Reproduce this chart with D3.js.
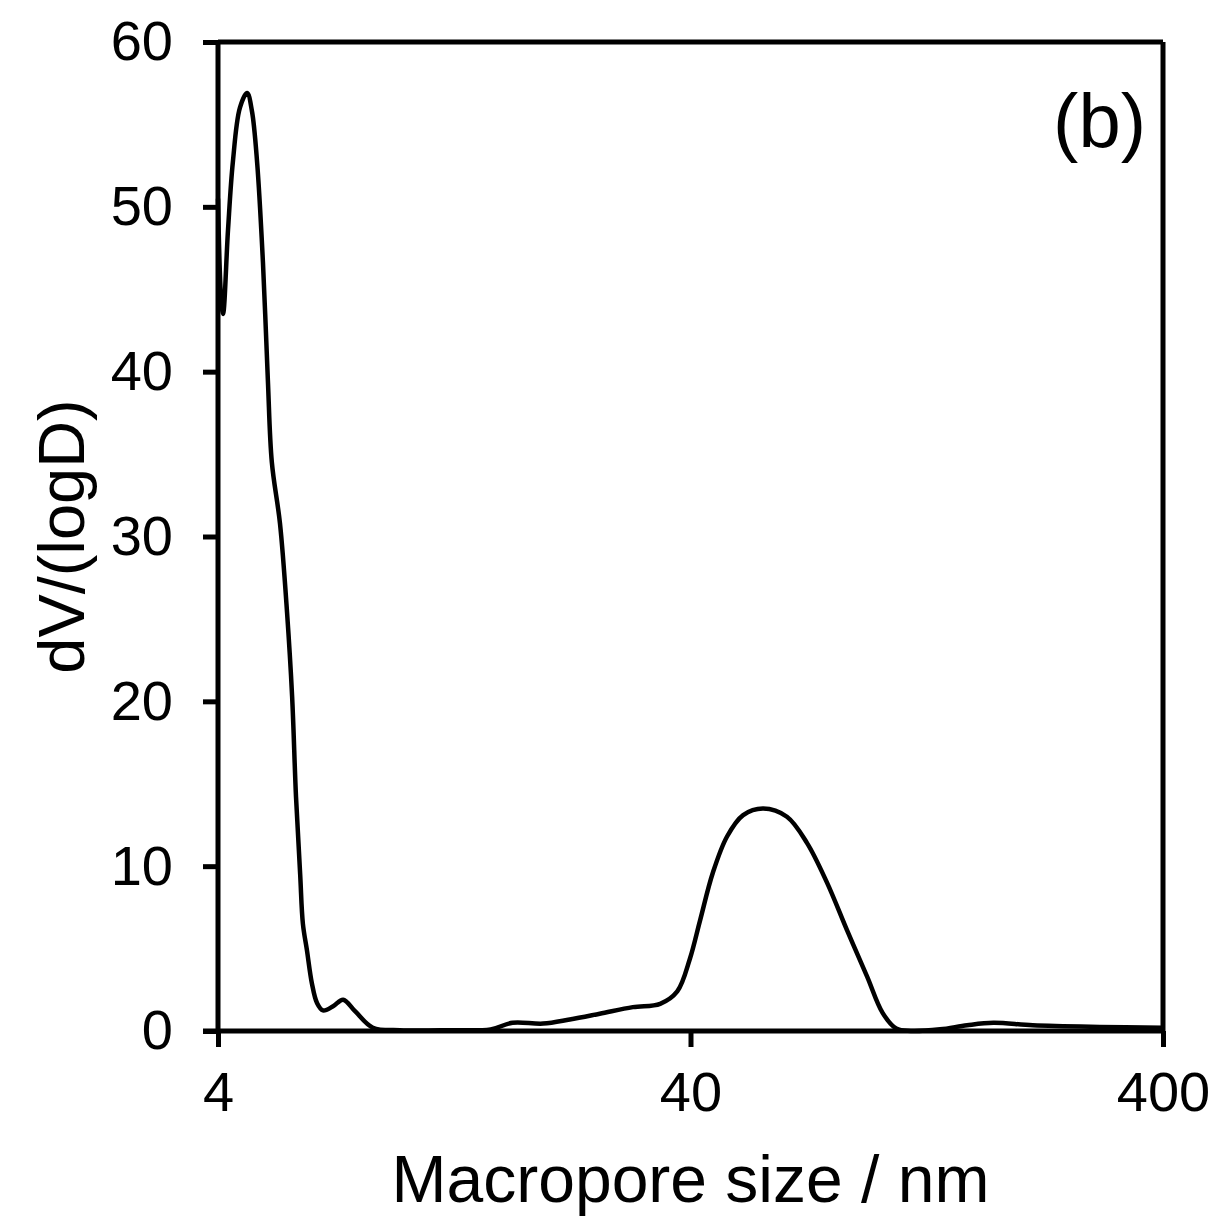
<!DOCTYPE html>
<html>
<head>
<meta charset="utf-8">
<script src="https://cdn.jsdelivr.net/npm/d3@7"></script>
<style>
  body { margin: 0; background: #fff; }
  text { font-family: "Liberation Sans", Arial, sans-serif; fill: #000; }
</style>
</head>
<body>
<div id="chart"></div>
<script>
// pore size (nm) and dV/(logD)
var poreSize = [4.00, 4.06, 4.10, 4.20, 4.30, 4.45, 4.61, 4.72, 4.84, 4.98, 5.10, 5.20, 5.41, 5.60, 5.74, 5.85,
    5.97, 6.05, 6.17, 6.32, 6.48, 6.67, 7.01, 7.36, 7.80, 8.51, 9.71, 12.4, 15.1, 16.8, 19.5, 22.2, 25.7, 30.2,
    34.5, 37.5, 39.9, 41.9, 44.6, 47.8, 51.7, 57.0, 64.0, 70.6, 77.8, 85.8, 94.6, 102, 109, 117, 135, 154, 175,
    212, 294, 400];
var dVlogD = [50.5, 44.5, 43.5, 48.6, 52.7, 56.0, 56.9, 55.8, 52.7, 46.6, 39.5, 34.5, 30.8, 25.4, 20.3, 14.2,
    9.5, 6.5, 4.9, 2.9, 1.7, 1.25, 1.5, 1.9, 1.2, 0.2, 0.05, 0.05, 0.1, 0.5, 0.45, 0.7, 1.05, 1.45,
    1.65, 2.4, 4.4, 6.7, 9.6, 11.8, 13.1, 13.5, 13.0, 11.4, 9.0, 6.1, 3.3, 1.1, 0.15, 0.0, 0.1, 0.35, 0.5,
    0.35, 0.25, 0.2];
var xTicks = [4, 40, 400];
var yTicks = [0, 10, 20, 30, 40, 50, 60];

(function() {
    var width = 1215, height = 1217;
    var mLeft = 218, mRight = 1163, mTop = 42, mBottom = 1031;
    var axisW = 5;

    var svg = d3.select("#chart").append("svg")
        .attr("width", width)
        .attr("height", height);

    svg.append("rect").attr("width", width).attr("height", height).attr("fill", "#fff");

    var x = d3.scaleLog().domain([4, 400]).range([mLeft, mRight]);
    var y = d3.scaleLinear().domain([0, 60]).range([mBottom, mTop]);

    // frame (top and right)
    svg.append("line").attr("x1", mLeft).attr("x2", mRight).attr("y1", mTop).attr("y2", mTop)
        .attr("stroke", "#000").attr("stroke-width", axisW);
    svg.append("line").attr("x1", mRight).attr("x2", mRight).attr("y1", mTop).attr("y2", mBottom)
        .attr("stroke", "#000").attr("stroke-width", axisW);

    // axes
    var xAxis = svg.append("g")
        .attr("transform", "translate(0," + mBottom + ")")
        .call(d3.axisBottom(x).tickValues(xTicks).tickSize(16).tickPadding(24).tickFormat(d3.format("d")));
    var yAxis = svg.append("g")
        .attr("transform", "translate(" + mLeft + ",0)")
        .call(d3.axisLeft(y).tickValues(yTicks).tickSize(15).tickPadding(30));

    [xAxis, yAxis].forEach(function(g) {
        g.select(".domain").attr("stroke", "#000").attr("stroke-width", axisW);
        g.selectAll(".tick line").attr("stroke", "#000").attr("stroke-width", axisW);
        g.selectAll(".tick text").attr("font-size", 56).attr("font-family", "Liberation Sans, Arial, sans-serif").attr("fill", "#000");
    });
    // axis lines reach to the outer tick ends like the original
    xAxis.select(".domain").attr("d", "M" + (mLeft - 15) + ",0H" + mRight);
    yAxis.select(".domain").attr("d", "M0," + mTop + "V" + mBottom);

    // curve
    var line = d3.line()
        .x(function(d, i) { return x(poreSize[i]); })
        .y(function(d) { return y(Math.max(d, 0)); })
        .curve(d3.curveCatmullRom.alpha(0.5));

    svg.append("path")
        .datum(dVlogD)
        .attr("d", line)
        .attr("fill", "none")
        .attr("stroke", "#000")
        .attr("stroke-width", 4.5)
        .attr("stroke-linejoin", "round");

    // labels
    svg.append("text")
        .attr("x", (mLeft + mRight) / 2)
        .attr("y", 1202)
        .attr("text-anchor", "middle")
        .attr("font-size", 66)
        .text("Macropore size / nm");

    svg.append("text")
        .attr("transform", "translate(84," + ((mTop + mBottom) / 2) + ") rotate(-90)")
        .attr("text-anchor", "middle")
        .attr("font-size", 65)
        .text("dV/(logD)");

    svg.append("text")
        .attr("x", 1146)
        .attr("y", 147)
        .attr("text-anchor", "end")
        .attr("font-size", 76)
        .text("(b)");
})();
</script>
</body>
</html>
